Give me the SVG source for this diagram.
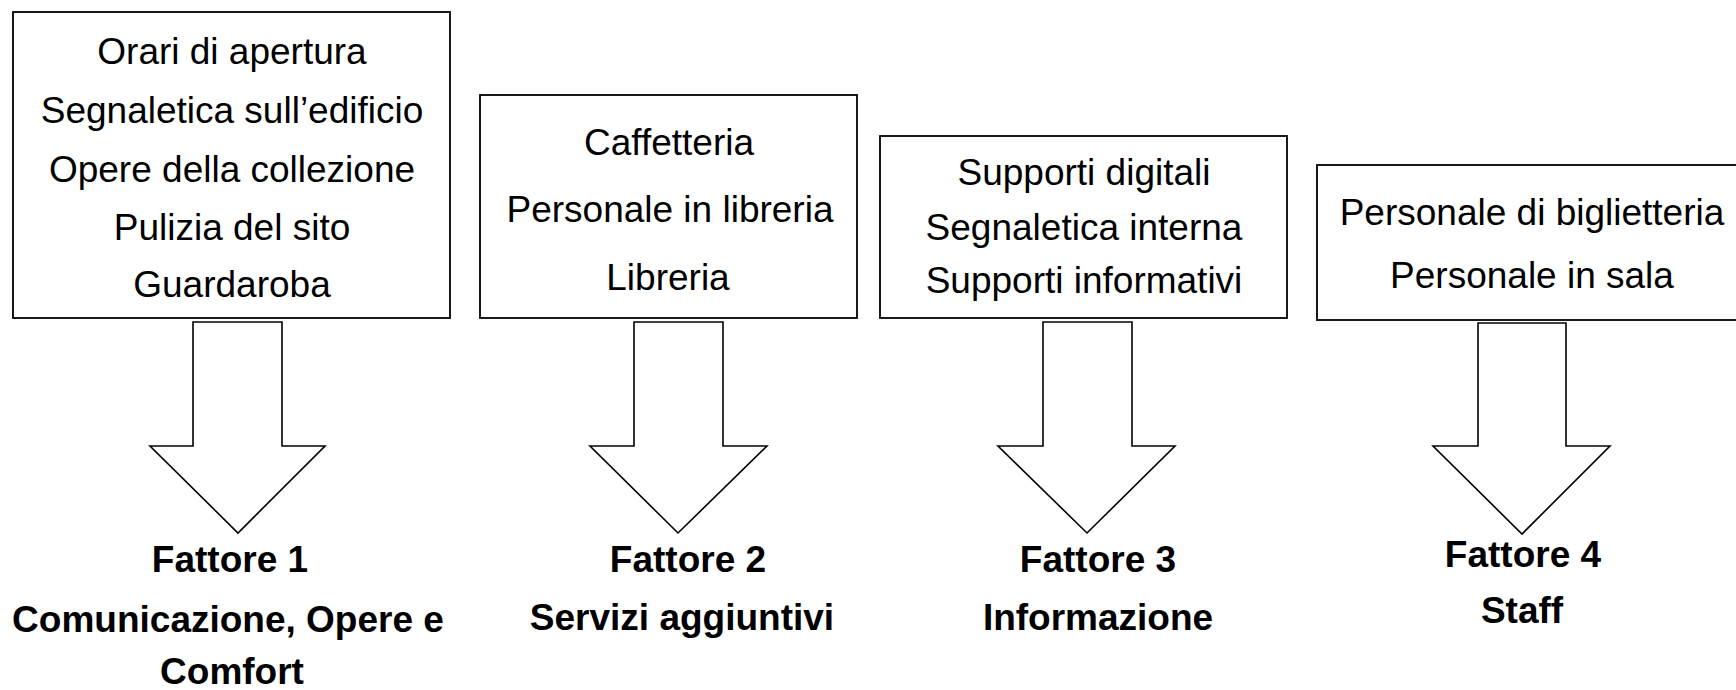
<svg xmlns="http://www.w3.org/2000/svg" width="1736" height="690" viewBox="0 0 1736 690">
<style>
.box{fill:#fff;stroke:#000;stroke-width:1.8}
.arrow{fill:#fff;stroke:#000;stroke-width:1.6;stroke-linejoin:miter}
.t{font-family:"Liberation Sans",Arial,sans-serif;font-size:37px;fill:#000;text-anchor:middle}
.b{font-family:"Liberation Sans",Arial,sans-serif;font-size:37px;font-weight:bold;fill:#000;text-anchor:middle}
</style>
<rect width="1736" height="690" fill="#fff"/>
<g id="box1">
<rect class="box" x="13" y="12" width="437" height="306"/>
<text class="t" x="232" y="64">Orari di apertura</text>
<text class="t" x="232" y="123">Segnaletica sull’edificio</text>
<text class="t" x="232" y="182">Opere della collezione</text>
<text class="t" x="232" y="240">Pulizia del sito</text>
<text class="t" x="232" y="297">Guardaroba</text>
</g>
<g id="box2">
<rect class="box" x="480" y="95" width="377" height="223"/>
<text class="t" x="669" y="155">Caffetteria</text>
<text class="t" x="670" y="222">Personale in libreria</text>
<text class="t" x="668" y="290">Libreria</text>
</g>
<g id="box3">
<rect class="box" x="880" y="136" width="407" height="182"/>
<text class="t" x="1084" y="185">Supporti digitali</text>
<text class="t" x="1084" y="240">Segnaletica interna</text>
<text class="t" x="1084" y="293">Supporti informativi</text>
</g>
<g id="box4">
<rect class="box" x="1317" y="165" width="432" height="155"/>
<text class="t" x="1532" y="225">Personale di biglietteria</text>
<text class="t" x="1532" y="288">Personale in sala</text>
</g>
<g id="connectors">
<polygon class="arrow" points="193,322 282,322 282,446 325,446 238,533 150,446 193,446"/>
<polygon class="arrow" points="634,322 723,322 723,446 767,446 678,533 590,446 634,446"/>
<polygon class="arrow" points="1043,322 1132,322 1132,446 1175,446 1087,533 998,446 1043,446"/>
<polygon class="arrow" points="1478,323 1566,323 1566,446 1610,446 1522,534 1433,446 1478,446"/>
</g>
<g id="label1">
<text class="b" x="230" y="572">Fattore 1</text>
<text class="b" x="228" y="632">Comunicazione, Opere e</text>
<text class="b" x="232" y="684">Comfort</text>
</g>
<g id="label2">
<text class="b" x="688" y="572">Fattore 2</text>
<text class="b" x="682" y="630">Servizi aggiuntivi</text>
</g>
<g id="label3">
<text class="b" x="1098" y="572">Fattore 3</text>
<text class="b" x="1098" y="630">Informazione</text>
</g>
<g id="label4">
<text class="b" x="1523" y="567">Fattore 4</text>
<text class="b" x="1522" y="623">Staff</text>
</g>
</svg>
